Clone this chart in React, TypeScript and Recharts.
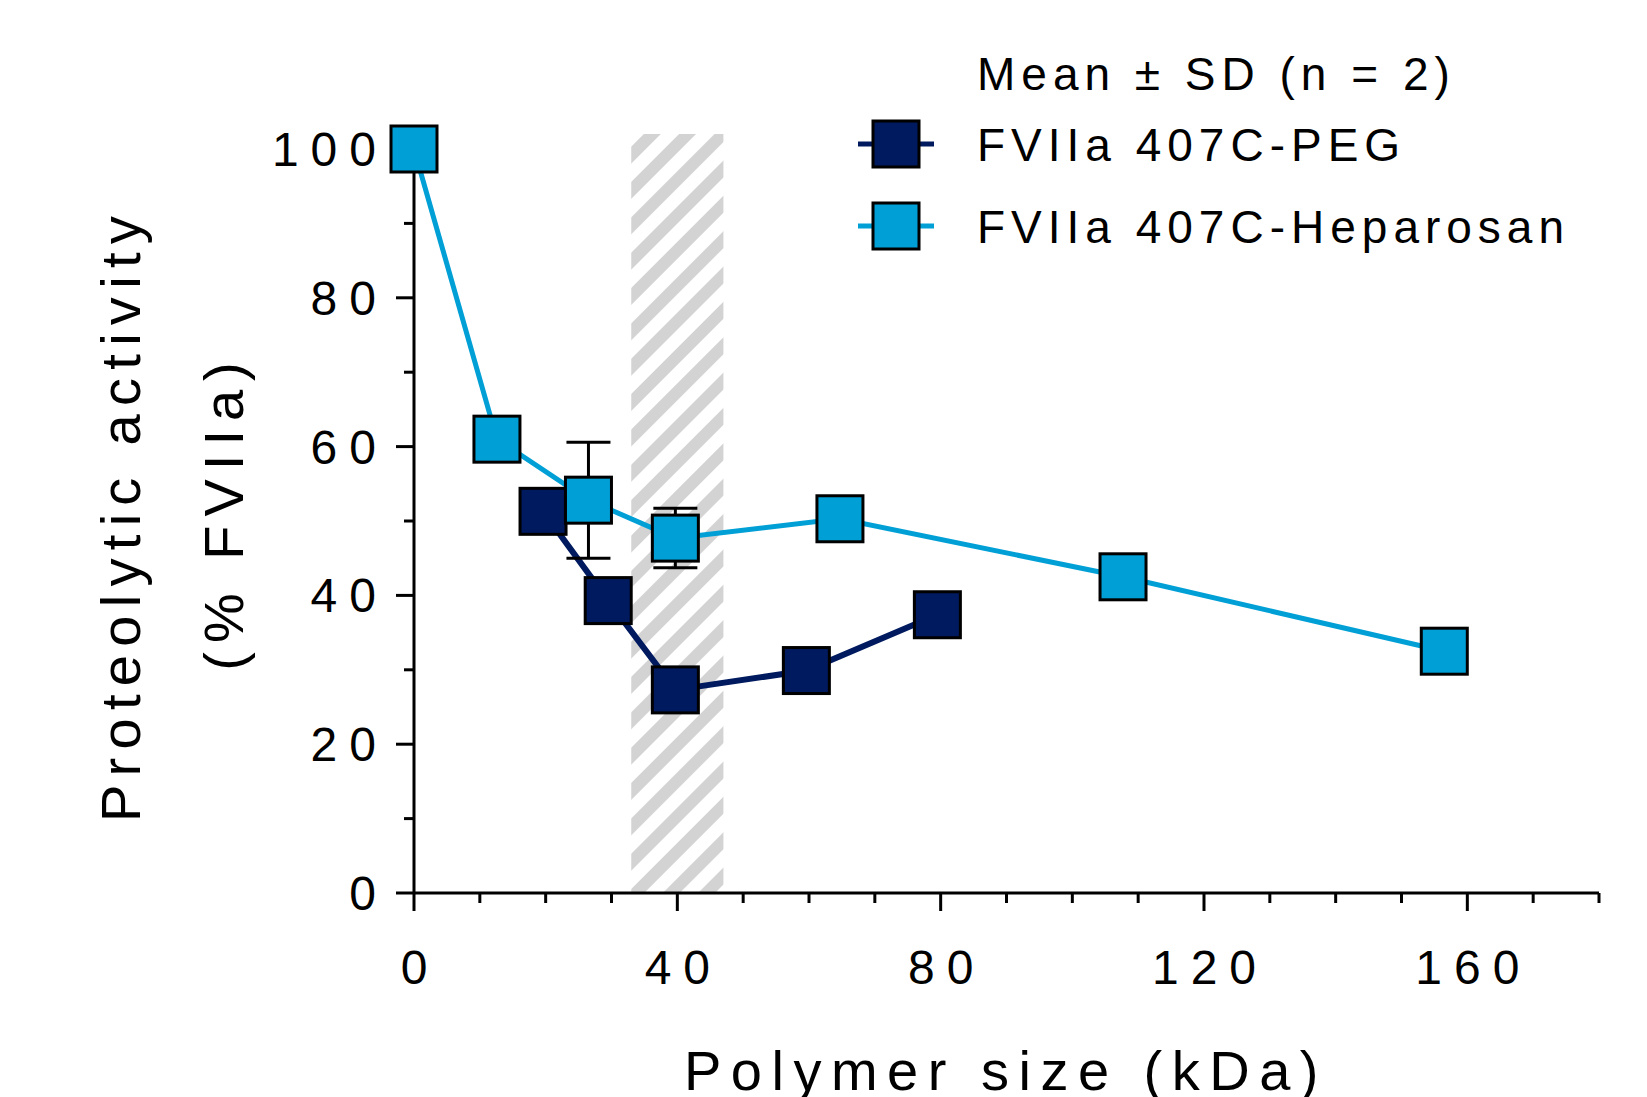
import React from 'react';
import { LineChart, Line, XAxis, YAxis, ErrorBar, ReferenceArea, ReferenceLine } from 'recharts';

// Polymer size (kDa) and proteolytic activity (% FVIIa)
const pegSize = [19.6, 29.5, 39.7, 59.6, 79.5];
const pegActivity = [51.3, 39.3, 27.3, 29.9, 37.4];
const pegSD = [0, 0, 0, 0, 0];

const hepSize = [0, 12.6, 26.5, 39.7, 64.7, 107.7, 156.5];
const hepActivity = [100, 61.0, 52.8, 47.7, 50.3, 42.5, 32.5];
const hepSD = [0, 0, 7.8, 4.0, 0, 0, 0];

const xTicks = [0, 10, 20, 30, 40, 50, 60, 70, 80, 90, 100, 110, 120, 130, 140, 150, 160, 170, 180];
const xLabelTicks = [0, 40, 80, 120, 160];
const yTicks = [0, 10, 20, 30, 40, 50, 60, 70, 80, 90, 100];
const yLabelTicks = [0, 20, 40, 60, 80, 100];
const yHiddenTickLines = [100]; // covered by the first marker in the original

const shadedFrom = 33;
const shadedTo = 47;
const shadedTop = 102;

const seriesNames = ['FVIIa 407C-PEG', 'FVIIa 407C-Heparosan'];
const legendTitle = 'Mean \u00B1 SD (n = 2)';
const xTitle = 'Polymer size (kDa)';
const yTitle1 = 'Proteolytic activity';
const yTitle2 = '(% FVIIa)';

const PEG_COLOR = '#001A5F';
const HEP_COLOR = '#00A0D6';
const FONT = '"Liberation Sans", Arial, Helvetica, sans-serif';

const pegData = pegSize.map((x, i) => ({ x, y: pegActivity[i], sd: pegSD[i] }));
const hepData = hepSize.map((x, i) => ({ x, y: hepActivity[i], sd: hepSD[i] }));

const XTick = (props: any) => {
  const { x, y, payload } = props;
  const major = xLabelTicks.includes(payload.value);
  return (
    <g>
      <line x1={x} y1={y} x2={x} y2={y + (major ? 18 : 10)} stroke="#000" strokeWidth={3} />
      {major && (
        <text x={x + 6} y={y + 91} textAnchor="middle" fontFamily={FONT} fontSize={48} letterSpacing={12} fill="#000">
          {payload.value}
        </text>
      )}
    </g>
  );
};

const YTick = (props: any) => {
  const { x, y, payload } = props;
  const major = yLabelTicks.includes(payload.value);
  const showLine = !yHiddenTickLines.includes(payload.value);
  return (
    <g>
      {showLine && <line x1={x} y1={y} x2={x - (major ? 18 : 10)} y2={y} stroke="#000" strokeWidth={3} />}
      {major && (
        <text x={x - 26} y={y + 17} textAnchor="end" fontFamily={FONT} fontSize={48} letterSpacing={12} fill="#000">
          {payload.value}
        </text>
      )}
    </g>
  );
};

const makeSquare = (fill: string) => (props: any) => {
  const { cx, cy, index } = props;
  if (cx == null || cy == null) return <g key={index} />;
  return (
    <rect key={index} x={cx - 23} y={cy - 23} width={46} height={46} fill={fill} stroke="#000" strokeWidth={3} />
  );
};

const LegendItem = ({ y, color, label }: { y: number; color: string; label: string }) => (
  <g>
    <line x1={858} y1={y} x2={934} y2={y} stroke={color} strokeWidth={5} />
    <rect x={873} y={y - 23} width={46} height={46} fill={color} stroke="#000" strokeWidth={3} />
    <text x={977} y={y + 17} fontFamily={FONT} fontSize={46} letterSpacing={6} fill="#000">{label}</text>
  </g>
);

export default function App() {
  return (
    <div style={{ position: 'absolute', left: 0, top: 0, width: 1647, height: 1097, background: '#fff' }}>
      <LineChart width={1647} height={1097} margin={{ top: 149, right: 48, bottom: 124, left: 214 }}>
        <defs>
          <pattern id="hatch" patternUnits="userSpaceOnUse" width={25} height={25} patternTransform="rotate(45)">
            <rect x={0} y={0} width={12} height={25} fill="#D3D3D3" />
          </pattern>
        </defs>
        <XAxis
          type="number"
          dataKey="x"
          domain={[0, 180]}
          ticks={xTicks}
          interval={0}
          tick={<XTick />}
          tickLine={false}
          tickSize={0}
          tickMargin={0}
          axisLine={{ stroke: '#000', strokeWidth: 3 }}
          height={80}
        />
        <YAxis
          type="number"
          domain={[0, 100]}
          ticks={yTicks}
          interval={0}
          tick={<YTick />}
          tickLine={false}
          tickSize={0}
          tickMargin={0}
          axisLine={false}
          width={200}
        />
        <ReferenceLine x={0} stroke="#000" strokeWidth={3} />
        <ReferenceArea
          x1={shadedFrom}
          x2={shadedTo}
          y1={0}
          y2={shadedTop}
          ifOverflow="visible"
          fill="url(#hatch)"
          fillOpacity={1}
          stroke="none"
        />
        <Line
          data={pegData}
          dataKey="y"
          name={seriesNames[0]}
          type="linear"
          stroke={PEG_COLOR}
          strokeWidth={6}
          dot={makeSquare(PEG_COLOR)}
          activeDot={false}
          isAnimationActive={false}
        >
          <ErrorBar dataKey="sd" width={22} stroke="#000" strokeWidth={3} direction="y" />
        </Line>
        <Line
          data={hepData}
          dataKey="y"
          name={seriesNames[1]}
          type="linear"
          stroke={HEP_COLOR}
          strokeWidth={5}
          dot={makeSquare(HEP_COLOR)}
          activeDot={false}
          isAnimationActive={false}
        >
          <ErrorBar dataKey="sd" width={22} stroke="#000" strokeWidth={3} direction="y" />
        </Line>
        <g>
          <text x={977} y={90} fontFamily={FONT} fontSize={46} letterSpacing={6} fill="#000">{legendTitle}</text>
          <LegendItem y={144} color={PEG_COLOR} label={seriesNames[0]} />
          <LegendItem y={226} color={HEP_COLOR} label={seriesNames[1]} />
          <text x={1006} y={1090} textAnchor="middle" fontFamily={FONT} fontSize={56} letterSpacing={9.5} fill="#000">{xTitle}</text>
          <text transform="translate(140,515) rotate(-90)" textAnchor="middle" fontFamily={FONT} fontSize={56} letterSpacing={8.3} fill="#000">{yTitle1}</text>
          <text transform="translate(243,512) rotate(-90)" textAnchor="middle" fontFamily={FONT} fontSize={56} letterSpacing={9} fill="#000">{yTitle2}</text>
        </g>
      </LineChart>
    </div>
  );
}
